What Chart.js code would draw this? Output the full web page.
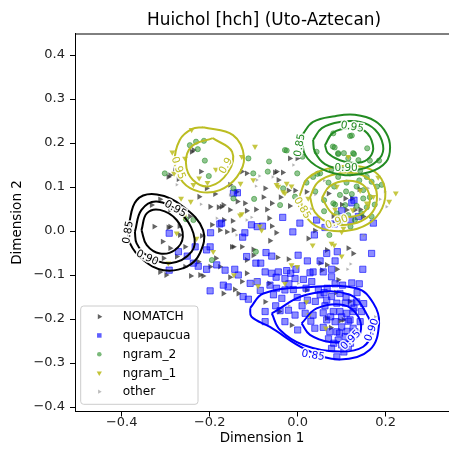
<!DOCTYPE html>
<html>
<head>
<meta charset="utf-8">
<script src="https://cdn.jsdelivr.net/npm/chart.js"></script>
<style>
  html, body { margin: 0; padding: 0; background: #fff; overflow: hidden; }
  #wrap { position: relative; width: 449px; height: 455px; }
</style>
</head>
<body>
<div id="wrap"><canvas id="chart"></canvas></div>
<script>
// values: x = Dimension 1, y = Dimension 2
const xTicks = [-0.4, -0.2, 0.0, 0.2];
const yTicks = [-0.4, -0.3, -0.2, -0.1, 0.0, 0.1, 0.2, 0.3, 0.4];

const nomatchPts = [
  [-0.241,0.180],[-0.294,0.123],[-0.271,0.118],[-0.220,0.135],[-0.188,0.084],[-0.224,0.078],[-0.199,0.055],[-0.180,0.054],
  [-0.313,0.072],[-0.332,0.059],[-0.326,0.010],[-0.290,0.010],[-0.269,0.011],[-0.245,0.033],[-0.307,-0.024],[-0.268,-0.009],
  [-0.218,-0.011],[-0.052,0.133],[-0.034,0.133],[-0.018,0.165],[-0.001,0.165],[-0.044,0.116],[-0.074,0.097],[-0.021,0.092],
  [-0.006,0.092],[-0.139,0.089],[-0.078,0.077],[-0.059,0.063],[-0.039,0.077],[-0.018,0.057],[-0.137,0.067],[-0.120,0.063],
  [-0.169,0.059],[-0.154,0.048],[-0.116,0.046],[-0.095,0.049],[-0.070,0.049],[-0.065,0.029],[-0.168,0.025],[-0.148,0.023],
  [-0.161,-0.002],[-0.146,0.002],[-0.059,0.011],[-0.049,-0.004],[-0.063,-0.022],[0.024,-0.017],[0.039,0.001],[0.020,0.089],
  [0.108,0.074],[0.111,0.048],[0.142,0.049],[0.149,0.033],[0.081,0.034],[0.085,0.018],[-0.290,-0.039],[-0.305,-0.062],
  [-0.275,-0.058],[-0.313,-0.093],[-0.299,-0.100],[-0.256,-0.081],[-0.243,-0.102],[-0.215,-0.102],[-0.199,-0.081],[-0.177,-0.081],
  [-0.186,-0.062],[-0.169,-0.142],[-0.226,-0.070],[-0.256,-0.036],[-0.146,-0.036],[-0.101,-0.042],[-0.046,-0.060],[-0.021,-0.064],
  [-0.116,-0.096],[-0.154,-0.105],[-0.127,-0.115],[-0.143,-0.133],[-0.135,-0.142],[-0.074,-0.161],[-0.065,-0.119],[0.020,-0.134],
  [0.051,-0.073],[0.066,-0.043],[-0.014,-0.214],[0.115,-0.039],[0.126,-0.051],[0.089,-0.087],[0.092,-0.111],[0.087,-0.140],
  [0.104,-0.202],[0.123,0.074],[0.130,0.048],[-0.048,0.135],[0.066,-0.198],[0.096,-0.204],[-0.042,-0.183],[0.066,-0.077],
  [0.055,-0.089],[-0.290,0.048],[-0.294,0.008],[-0.237,0.184],[-0.279,0.142],[-0.290,0.127],[-0.207,0.097],[-0.154,0.105],
  [-0.127,0.135],[-0.116,0.131],[-0.173,0.055],[-0.195,0.014],[-0.177,0.002],[-0.150,-0.036],[-0.127,-0.036],[-0.101,-0.055],
  [-0.116,-0.066],[-0.222,-0.100],[0.100,0.060],[0.070,0.085],[0.140,0.095],[0.118,-0.160],[0.075,-0.220]
];

const quepaucuaPts = [
  [-0.177,0.016],[-0.198,-0.004],[-0.292,-0.005],[-0.146,0.086],[-0.137,0.087],[-0.034,0.031],[-0.092,0.010],[-0.080,0.011],
  [-0.120,-0.004],[-0.125,-0.014],[-0.011,-0.002],[0.005,0.018],[0.043,0.025],[0.038,-0.009],[0.062,0.008],[-0.173,0.018],
  [0.128,0.070],[0.123,0.064],[0.100,0.046],[0.120,0.025],[0.138,0.033],[0.095,0.027],[0.083,0.016],[0.172,0.018],
  [0.149,-0.014],[-0.271,-0.047],[-0.251,-0.057],[-0.199,-0.036],[-0.207,-0.043],[-0.226,-0.080],[-0.207,-0.087],[-0.292,-0.089],
  [-0.199,-0.136],[-0.237,-0.073],[-0.233,-0.036],[-0.184,-0.077],[-0.105,0.014],
  [-0.116,-0.058],[-0.095,-0.073],[-0.084,-0.073],[-0.072,-0.049],[-0.059,-0.057],[0.001,-0.055],[0.022,-0.068],[0.051,-0.068],
  [0.066,-0.051],[-0.165,-0.089],[-0.143,-0.087],[-0.135,-0.100],[-0.074,-0.093],[-0.059,-0.096],[-0.044,-0.093],[-0.025,-0.090],
  [-0.016,-0.096],[-0.004,-0.087],[-0.029,-0.108],[-0.049,-0.105],[-0.006,-0.108],[0.013,-0.110],[0.028,-0.095],[0.035,-0.093],
  [0.058,-0.093],[-0.169,-0.123],[-0.158,-0.127],[-0.108,-0.119],[-0.092,-0.115],[-0.063,-0.123],[-0.048,-0.130],[-0.029,-0.134],
  [-0.010,-0.133],[0.019,-0.130],[0.032,-0.115],[0.047,-0.134],[0.067,-0.130],[-0.124,-0.149],[-0.112,-0.155],[-0.055,-0.145],
  [-0.036,-0.153],[-0.001,-0.151],[0.022,-0.157],[0.051,-0.145],[0.066,-0.157],[-0.074,-0.183],[-0.040,-0.181],[-0.021,-0.180],
  [-0.006,-0.191],[0.017,-0.187],[0.035,-0.191],[0.058,-0.186],[-0.074,-0.206],[-0.029,-0.206],[0.039,-0.221],[0.058,-0.219],
  [0.066,-0.202],[0.073,-0.229],
  [0.168,-0.051],[0.148,-0.087],[0.123,-0.118],[0.090,-0.047],[0.085,-0.068],[0.077,-0.087],[0.077,-0.104],[0.102,-0.123],
  [0.096,-0.142],[0.077,-0.149],[0.089,-0.164],[0.108,-0.164],[0.123,-0.164],[0.134,-0.161],[0.081,-0.183],[0.096,-0.183],
  [0.111,-0.187],[0.126,-0.183],[0.145,-0.183],[0.119,-0.202],[0.142,-0.206],[0.085,-0.206],[0.100,-0.218],[0.126,-0.221],
  [0.130,-0.229],[0.089,-0.229],[0.108,-0.240],[0.092,-0.248],[0.100,-0.259],[0.115,-0.263],[0.089,-0.286],[0.077,-0.267],
  [0.062,-0.170],[0.075,-0.195],[0.110,-0.150],[0.135,-0.140],[0.115,-0.205],[0.095,-0.232],[0.070,-0.245],[0.120,-0.255],
  [0.105,-0.275],[0.040,-0.160],[0.030,-0.205],[0.150,-0.165],[0.128,-0.175],[0.085,-0.120],[0.140,-0.120],[-0.020,-0.120],
  [-0.085,-0.135],[0.010,-0.170],[-0.050,-0.170],[0.000,-0.225],[0.100,-0.195],[0.082,-0.255],[0.112,-0.228],[0.060,-0.140]
];

const ngram2Pts = [
  [-0.245,0.195],[-0.231,0.203],[-0.213,0.205],[-0.227,0.186],[-0.211,0.160],[-0.202,0.125],[-0.302,0.131],[-0.237,0.025],
  [-0.254,0.027],[-0.146,0.097],[-0.195,-0.066],
  [-0.112,0.165],[-0.065,0.158],[-0.068,0.135],[-0.101,0.131],[-0.001,0.131],[-0.025,0.183],[0.011,0.169],[-0.099,0.073],
  [-0.146,0.074],[0.035,0.123],[0.051,0.131],[-0.095,-0.047],
  [0.081,0.222],[0.123,0.217],[0.092,0.177],[0.126,0.177],[0.158,0.188],[0.043,0.180],[-0.029,0.184],[0.077,0.140],
  [0.115,0.165],[0.138,0.161],[0.080,0.192],[0.119,0.216],
  [0.084,0.190],[0.105,0.177],[0.092,0.175],[0.128,0.175],[0.164,0.160],[0.185,0.160],[0.142,0.137],[0.119,0.131],
  [0.092,0.123],[0.157,0.123],[0.168,0.112],[0.191,0.105],[0.180,0.101],[0.083,0.101],[0.111,0.110],[0.134,0.101],
  [0.149,0.093],[0.096,0.082],[0.123,0.084],[0.149,0.074],[0.164,0.077],[0.081,0.063],[0.108,0.059],[0.134,0.057],
  [0.157,0.054],[0.089,0.040],[0.115,0.036],[0.145,0.040],[0.168,0.033],[0.096,0.021],[0.130,0.025],
  [-0.033,0.097],[-0.040,0.059],[-0.006,0.078],[0.072,-0.009],[0.040,0.090],[0.060,0.070],
  [0.070,0.110],[0.100,0.140],[0.140,0.115],[0.060,0.045],[0.120,0.010],[0.175,0.060],[0.045,0.130],[0.020,0.110],
  [0.085,0.060],[0.110,0.090]
];

const ngram1Pts = [
  [-0.241,0.230],[-0.285,0.179],[-0.281,0.131],[-0.224,0.120],[-0.186,0.140],[-0.237,0.105],[-0.205,0.110],[-0.243,0.067],
  [-0.265,0.074],[-0.258,0.033],[-0.275,-0.005],[-0.230,-0.017],[-0.256,0.165],[-0.131,0.036],
  [-0.127,0.169],[-0.097,0.192],[-0.101,0.116],[-0.130,0.108],[-0.048,0.105],[-0.025,0.108],[-0.033,0.089],[-0.086,0.011],
  [-0.082,0.002],[-0.127,0.039],[-0.014,0.102],[0.024,0.074],[-0.044,0.101],[-0.029,0.086],
  [0.115,0.169],[0.183,0.122],[0.223,0.086],[0.208,0.067],[0.104,0.006],[0.089,0.101],[0.142,0.092],[0.157,0.063],
  [0.125,0.048],[0.085,0.049],[0.172,0.078],[0.077,-0.028],[0.100,-0.002],
  [-0.192,-0.047],[-0.294,-0.073],[-0.145,-0.100],[-0.090,-0.125],[-0.014,-0.077],[-0.001,-0.081],[0.034,-0.032],
  [-0.029,-0.119],[0.020,-0.161],[0.026,-0.191],[0.064,-0.221],[0.083,-0.032],[0.100,-0.057]
];

const otherPts = [
  [-0.275,0.105],[-0.220,0.061],[-0.184,0.029],[-0.095,0.102],[-0.087,0.125],[-0.057,0.123],[-0.154,0.082],[-0.105,0.031],
  [-0.139,-0.009],[0.096,0.150],[0.198,0.089],[0.202,0.055],[0.187,0.072],[0.160,0.097],[-0.101,-0.119],[0.001,-0.119],
  [0.113,-0.087],[0.176,-0.195],[-0.093,0.116],[-0.116,0.025],[-0.097,-0.111],[0.040,0.083],[0.060,0.115],[0.140,0.030],
  [0.030,0.050],[-0.010,0.150],[0.150,-0.010],[0.070,-0.140],[-0.020,-0.170],[0.120,-0.075]
];

// density contours (levels 0.85 / 0.90 / 0.95)
const blackC85 = [[-0.385,0.010],[-0.366,0.070],[-0.320,0.083],[-0.260,0.055],[-0.215,0.002],[-0.222,-0.050],[-0.252,-0.081],[-0.305,-0.089],[-0.351,-0.066],[-0.381,-0.028]];
const blackC90 = [[-0.370,-0.002],[-0.355,0.048],[-0.320,0.067],[-0.267,0.041],[-0.237,-0.005],[-0.241,-0.047],[-0.290,-0.073],[-0.343,-0.055],[-0.366,-0.028]];
const blackC95 = [[-0.355,0.002],[-0.343,0.040],[-0.313,0.048],[-0.275,0.025],[-0.261,-0.013],[-0.279,-0.043],[-0.313,-0.051],[-0.343,-0.032]];
const blueC85 = [[-0.108,-0.175],[-0.078,-0.142],[0.020,-0.128],[0.134,-0.130],[0.172,-0.164],[0.185,-0.210],[0.164,-0.270],[0.096,-0.292],[0.020,-0.270],[-0.063,-0.218],[-0.105,-0.195]];
const blueC90 = [[-0.059,-0.187],[0.020,-0.145],[0.119,-0.145],[0.160,-0.195],[0.168,-0.229],[0.149,-0.263],[0.096,-0.274],[0.013,-0.259],[-0.040,-0.225]];
const blueC95 = [[0.009,-0.210],[0.043,-0.176],[0.104,-0.168],[0.138,-0.195],[0.142,-0.233],[0.123,-0.248],[0.073,-0.252],[0.028,-0.236]];
const greenC85 = [[0.010,0.218],[0.035,0.248],[0.085,0.261],[0.130,0.264],[0.176,0.250],[0.201,0.223],[0.210,0.191],[0.201,0.157],[0.164,0.134],[0.108,0.127],[0.051,0.143],[0.017,0.173]];
const greenC90 = [[0.035,0.207],[0.055,0.234],[0.096,0.248],[0.142,0.248],[0.176,0.230],[0.194,0.195],[0.187,0.166],[0.153,0.143],[0.108,0.139],[0.062,0.152],[0.039,0.180]];
const greenC95 = [[0.062,0.195],[0.080,0.223],[0.119,0.234],[0.153,0.227],[0.171,0.195],[0.164,0.168],[0.137,0.155],[0.096,0.161],[0.069,0.177]];
const oliveUpOuter = [[-0.215,0.236],[-0.147,0.218],[-0.122,0.168],[-0.138,0.123],[-0.177,0.093],[-0.222,0.089],[-0.261,0.111],[-0.279,0.157],[-0.268,0.207],[-0.240,0.232]];
const oliveUpInner = [[-0.193,0.211],[-0.149,0.180],[-0.158,0.134],[-0.199,0.102],[-0.238,0.116],[-0.254,0.155],[-0.240,0.193]];
const oliveC85 = [[0.005,0.082],[0.023,0.120],[0.073,0.143],[0.130,0.148],[0.176,0.134],[0.198,0.098],[0.192,0.052],[0.160,0.016],[0.108,0.000],[0.051,0.007],[0.017,0.036]];
const oliveC90 = [[0.028,0.077],[0.046,0.111],[0.089,0.130],[0.137,0.130],[0.171,0.109],[0.180,0.070],[0.164,0.036],[0.123,0.016],[0.073,0.018],[0.039,0.043]];
const oliveC95 = [[0.055,0.075],[0.073,0.102],[0.112,0.114],[0.148,0.105],[0.164,0.075],[0.153,0.045],[0.119,0.032],[0.080,0.039]];

// contour labels: group, text, x, y, angle
const contourLabels = [
  ['black','0.95',-0.278,0.050,30],['black','0.90',-0.342,-0.061,25],['black','0.85',-0.385,-0.003,-80],
  ['green','0.95',0.124,0.236,10],['green','0.85',0.005,0.195,-80],['green','0.90',0.110,0.143,0],
  ['olive','0.95',-0.272,0.143,70],['olive','0.9',-0.163,0.148,-60],
  ['olive','0.85',0.010,0.052,60],['olive','0.90',0.089,0.020,-20],
  ['blue','0.85',0.035,-0.283,10],['blue','0.95',0.121,-0.248,-45],['blue','0.90',0.169,-0.225,-70]
];

const lineColors = { black: '#000000', blue: '#0000ff', green: '#228b22', olive: '#bcbd22' };
const FONT = "'DejaVu Sans', sans-serif";

const seriesDefs = [
  { label: 'NOMATCH',   pts: nomatchPts,   shape: 'triangle', rot: 90,  r: 3.4, fill: 'rgba(40,40,40,0.72)',   edge: 'rgba(40,40,40,0)',    lg: 'rgba(60,60,60,0.8)',  lr: 3.0, order: 5 },
  { label: 'quepaucua', pts: quepaucuaPts, shape: 'rect',     rot: 0,   r: 4.4, fill: 'rgba(0,0,255,0.45)',    edge: 'rgba(0,0,255,0.6)',   lg: 'rgba(40,40,255,0.75)', lr: 3.2, order: 4 },
  { label: 'ngram_2',   pts: ngram2Pts,    shape: 'circle',   rot: 0,   r: 2.6, fill: 'rgba(34,139,34,0.5)',   edge: 'rgba(34,139,34,0.5)', lg: 'rgba(34,139,34,0.6)', lr: 2.3, order: 3 },
  { label: 'ngram_1',   pts: ngram1Pts,    shape: 'triangle', rot: 180, r: 3.4, fill: 'rgba(188,189,34,0.85)', edge: 'rgba(188,189,34,0)',  lg: 'rgba(188,189,34,0.9)', lr: 3.0, order: 2 },
  { label: 'other',     pts: otherPts,     shape: 'triangle', rot: 90,  r: 2.0, fill: 'rgba(150,150,150,0.7)', edge: 'rgba(150,150,150,0)', lg: 'rgba(170,170,170,0.8)', lr: 2.4, order: 1 }
];

const contourDefs = [
  [blackC85,'black'],[blackC90,'black'],[blackC95,'black'],
  [blueC85,'blue'],[blueC90,'blue'],[blueC95,'blue'],
  [greenC85,'green'],[greenC90,'green'],[greenC95,'green'],
  [oliveUpOuter,'olive'],[oliveUpInner,'olive'],
  [oliveC85,'olive'],[oliveC90,'olive'],[oliveC95,'olive']
];

const toXY = arr => arr.map(p => ({ x: p[0], y: p[1] }));

const datasets = [];
seriesDefs.forEach(s => {
  datasets.push({
    label: s.label,
    data: toXY(s.pts),
    pointStyle: s.shape,
    rotation: s.rot,
    pointRadius: s.r,
    pointHoverRadius: s.r,
    backgroundColor: s.fill,
    borderColor: s.edge,
    borderWidth: 1,
    order: s.order
  });
});
contourDefs.forEach(([pts, grp]) => {
  datasets.push({
    label: '',
    data: toXY(pts.concat([pts[0]])),
    showLine: true,
    pointRadius: 0,
    borderColor: lineColors[grp],
    borderWidth: 2,
    tension: 0.4,
    fill: false,
    order: 0
  });
});

function marker(ctx, shape, rot, cx, cy, r) {
  ctx.beginPath();
  if (shape === 'circle') {
    ctx.arc(cx, cy, r, 0, Math.PI * 2);
  } else if (shape === 'rect') {
    ctx.rect(cx - r * 0.707, cy - r * 0.707, r * 1.414, r * 1.414);
  } else {
    for (let k = 0; k < 3; k++) {
      const t = (rot + 120 * k) * Math.PI / 180;
      const px = cx + Math.sin(t) * r, py = cy - Math.cos(t) * r;
      if (k === 0) ctx.moveTo(px, py); else ctx.lineTo(px, py);
    }
    ctx.closePath();
  }
  ctx.fill();
}

const decor = {
  id: 'decor',
  afterDatasetsDraw(chart) {
    const { ctx, scales: { x, y } } = chart;
    ctx.save();
    ctx.font = '10.5px ' + FONT;
    ctx.textAlign = 'center';
    ctx.textBaseline = 'middle';
    contourLabels.forEach(([grp, txt, vx, vy, ang]) => {
      ctx.save();
      ctx.translate(x.getPixelForValue(vx), y.getPixelForValue(vy));
      ctx.rotate(ang * Math.PI / 180);
      ctx.lineWidth = 3;
      ctx.strokeStyle = 'rgba(255,255,255,0.9)';
      ctx.strokeText(txt, 0, 0);
      ctx.fillStyle = lineColors[grp];
      ctx.fillText(txt, 0, 0);
      ctx.restore();
    });
    ctx.restore();
  },
  afterDraw(chart) {
    const { ctx, chartArea: a } = chart;
    ctx.save();
    // top spine
    ctx.strokeStyle = '#000';
    ctx.lineWidth = 1;
    ctx.beginPath();
    ctx.moveTo(a.left, a.top + 0.5);
    ctx.lineTo(a.right, a.top + 0.5);
    ctx.stroke();

    // title
    ctx.fillStyle = '#000';
    ctx.font = '16.9px ' + FONT;
    ctx.textAlign = 'center';
    ctx.textBaseline = 'alphabetic';
    ctx.fillText('Huichol [hch] (Uto-Aztecan)', (a.left + a.right) / 2 + 2, 25);

    // legend, lower left inside the axes
    const bx = a.left + 5.7, bw = 117.3, bh = 98.3, by = a.bottom - 7.2 - bh;
    ctx.beginPath();
    ctx.roundRect(bx, by, bw, bh, 3);
    ctx.fillStyle = 'rgba(255,255,255,0.8)';
    ctx.fill();
    ctx.strokeStyle = '#cccccc';
    ctx.stroke();
    ctx.font = '12.2px ' + FONT;
    ctx.textAlign = 'left';
    ctx.textBaseline = 'middle';
    seriesDefs.forEach((s, i) => {
      const ry = by + 10.7 + i * 18.75;
      ctx.fillStyle = s.lg;
      marker(ctx, s.shape, s.rot, bx + 18.6, ry, s.lr);
      ctx.fillStyle = '#000';
      ctx.fillText(s.label, bx + 42, ry + 0.5);
    });
    ctx.restore();
  }
};

const tickFmt = v => (v < 0 ? '\u2212' : '') + Math.abs(v).toFixed(1);

new Chart(document.getElementById('chart'), {
  type: 'scatter',
  data: { datasets },
  options: {
    responsive: true,
    maintainAspectRatio: false,
    animation: false,
    events: [],
    layout: { autoPadding: false, padding: { top: 33.5, left: 0, right: 0, bottom: 0 } },
    plugins: {
      legend: { display: false },
      title: { display: false },
      tooltip: { enabled: false }
    },
    scales: {
      x: {
        type: 'linear',
        min: -0.5061,
        max: 0.3439,
        afterFit: s => { s.height = 43.5; s.paddingLeft = 0; s.paddingRight = 0; },
        afterBuildTicks: s => { s.ticks = xTicks.map(v => ({ value: v })); },
        grid: { display: true, drawOnChartArea: false, drawTicks: true, tickLength: 5, tickColor: '#000' },
        border: { display: true, color: '#000', width: 1 },
        ticks: { color: '#222', padding: -2, maxRotation: 0, font: { family: FONT, size: 13 }, callback: tickFmt },
        title: { display: true, text: 'Dimension 1', color: '#000', font: { family: FONT, size: 13.5 }, padding: { top: 0, bottom: 8 } }
      },
      y: {
        type: 'linear',
        min: -0.4102,
        max: 0.4489,
        afterFit: s => { s.width = 75; s.paddingTop = 0; s.paddingBottom = 0; },
        afterBuildTicks: s => { s.ticks = yTicks.map(v => ({ value: v })); },
        grid: { display: true, drawOnChartArea: false, drawTicks: true, tickLength: 5, tickColor: '#000' },
        border: { display: true, color: '#000', width: 1 },
        ticks: { color: '#222', padding: 5, font: { family: FONT, size: 13 }, callback: tickFmt },
        title: { display: true, text: 'Dimension 2', color: '#000', font: { family: FONT, size: 13.5 }, padding: { top: 9, bottom: 0 } }
      }
    }
  },
  plugins: [decor]
});
</script>
</body>
</html>
